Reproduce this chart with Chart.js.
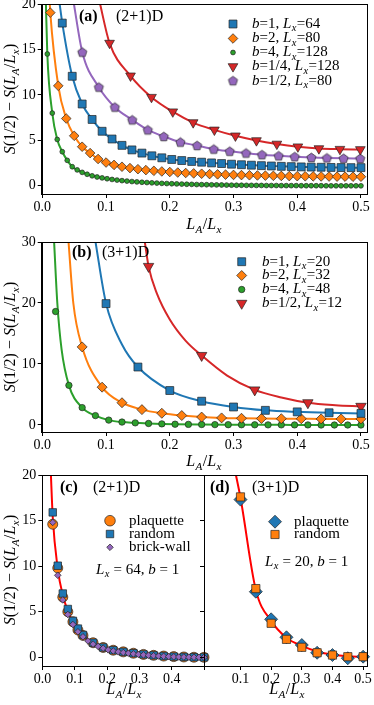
<!DOCTYPE html>
<html><head><meta charset="utf-8">
<script src="https://cdn.jsdelivr.net/npm/chart.js@4.4.1/dist/chart.umd.min.js"></script>
<style>
html,body{margin:0;padding:0;background:#fff;}
#wrap{position:relative;width:374px;height:705px;overflow:hidden;background:#fff;}
canvas{position:absolute;}
</style></head><body><div id="wrap">
<canvas id="ca"></canvas><canvas id="cb"></canvas><canvas id="cc"></canvas><canvas id="cd"></canvas>
</div>
<script>
// ---------------- DATA ----------------
// Panel (a) (2+1)D
const aBlueX = [0.0313,0.0469,0.0625,0.0781,0.0938,0.1094,0.125,0.1406,0.1563,0.1719,0.1875,0.2031,0.2188,0.2344,0.25,0.2656,0.2813,0.2969,0.3125,0.3281,0.3438,0.3594,0.375,0.3906,0.4063,0.4219,0.4375,0.4531,0.4688,0.4844,0.5];
const aBlueY = [17.9,12.05,9.0,7.3,6.0,5.15,4.45,3.95,3.6,3.3,3.08,2.9,2.78,2.68,2.6,2.52,2.45,2.38,2.32,2.27,2.22,2.18,2.14,2.11,2.08,2.06,2.04,2.02,2.01,2.0,2.0];
const aOrangeX = [0.0125,0.025,0.0375,0.05,0.0625,0.075,0.0875,0.1,0.1125,0.125,0.1375,0.15,0.1625,0.175,0.1875,0.2,0.2125,0.225,0.2375,0.25,0.2625,0.275,0.2875,0.3,0.3125,0.325,0.3375,0.35,0.3625,0.375,0.3875,0.4,0.4125,0.425,0.4375,0.45,0.4625,0.475,0.4875,0.5];
const aOrangeY = [19.05,11.0,7.4,5.5,4.3,3.6,2.95,2.56,2.3,2.1,1.95,1.83,1.73,1.65,1.58,1.52,1.46,1.41,1.37,1.33,1.29,1.26,1.23,1.2,1.18,1.16,1.14,1.12,1.1,1.09,1.07,1.06,1.05,1.04,1.03,1.02,1.01,1.01,1.0,1.0];
const aGreenX = [0.0078,0.0156,0.0234,0.0313,0.0391,0.0469,0.0547,0.0625,0.0703,0.0781,0.0859,0.0938,0.1016,0.1094,0.1172,0.125,0.1328,0.1406,0.1484,0.1563,0.1641,0.1719,0.1797,0.1875,0.1953,0.2031,0.2109,0.2188,0.2266,0.2344,0.2422,0.25,0.2578,0.2656,0.2734,0.2813,0.2891,0.2969,0.3047,0.3125,0.3203,0.3281,0.3359,0.3438,0.3516,0.3594,0.3672,0.375,0.3828,0.3906,0.3984,0.4063,0.4141,0.4219,0.4297,0.4375,0.4453,0.4531,0.4609,0.4688,0.4766,0.4844,0.4922,0.5];
const aGreenY = [14.5,8.0,5.1,3.75,2.8,2.1,1.75,1.48,1.27,1.1,0.97,0.87,0.78,0.7,0.63,0.57,0.52,0.47,0.43,0.39,0.36,0.33,0.3,0.27,0.25,0.23,0.21,0.19,0.17,0.16,0.14,0.13,0.12,0.11,0.1,0.09,0.08,0.07,0.06,0.06,0.05,0.05,0.04,0.04,0.03,0.03,0.03,0.02,0.02,0.02,0.02,0.01,0.01,0.01,0.01,0.01,0,0,0,0,0,0,0,0];
const aRedX = [0.1055,0.1384,0.1713,0.2047,0.2367,0.27,0.303,0.336,0.368,0.401,0.434,0.467,0.499];
const aRedY = [15.7,12.1,9.75,8.15,6.96,6.15,5.5,4.98,4.6,4.3,4.1,4.03,4.0];
const aPurpleX = [0.0627,0.0887,0.1138,0.141,0.1655,0.1906,0.2167,0.2428,0.269,0.294,0.3196,0.3447,0.3708,0.396,0.4221,0.4466,0.4727,0.4988];
const aPurpleY = [14.7,10.85,8.65,7.25,6.15,5.42,4.8,4.43,4.03,3.8,3.6,3.42,3.3,3.2,3.12,3.06,3.02,3.0];
// fit-curve points read above the first marker (curve reaching the top edge)
const aFitTopX = {blue:[0.026], orange:[0.0113], green:[0.0054], red:[0.0893], purple:[0.0486]};
const aFitTopY = {blue:[20.6], orange:[20.6], green:[20.6], red:[20.4], purple:[20.4]};
const aLabels = ['$b$=1, $L_x$=64','$b$=2, $L_x$=80','$b$=4, $L_x$=128','$b$=1/4, $L_x$=128','$b$=1/2, $L_x$=80'];

// Panel (b) (3+1)D
const bBlueX = [0.1,0.15,0.2,0.25,0.3,0.35,0.4,0.45,0.5];
const bBlueY = [19.9,9.5,5.65,3.9,2.95,2.4,2.15,2.0,1.9];
const bOrangeX = [0.0625,0.0938,0.125,0.1563,0.1875,0.2188,0.25,0.2813,0.3125,0.3438,0.375,0.4063,0.4375,0.4688,0.5];
const bOrangeY = [12.8,6.2,3.65,2.52,1.92,1.55,1.3,1.16,1.1,1.06,1.03,1.02,1.0,1.0,1.0];
const bGreenX = [0.0208,0.0417,0.0625,0.0833,0.1042,0.125,0.1458,0.1667,0.1875,0.2083,0.2292,0.25,0.2708,0.2917,0.3125,0.3333,0.3542,0.375,0.3958,0.4167,0.4375,0.4583,0.4792,0.5];
const bGreenY = [18.6,6.5,2.85,1.54,0.8,0.48,0.35,0.25,0.18,0.13,0.1,0.08,0.06,0.05,0.04,0.03,0.02,0.02,0.01,0.01,0,0,0,0];
const bRedX = [0.1667,0.25,0.3333,0.4167,0.5];
const bRedY = [26.0,11.4,5.75,3.65,3.06];
const bFitBlueX = [0.0825,0.1,0.125,0.15,0.2,0.25,0.3,0.35,0.4,0.45,0.5];
const bFitBlueY = [30.6,19.9,13.2,9.5,5.65,3.9,2.95,2.4,2.15,2.0,1.9];
const bFitOrangeX = [0.0407,0.0486,0.0625,0.0938,0.125,0.1563,0.1875,0.2188,0.25,0.2813,0.3125,0.3438,0.375,0.4063,0.4375,0.4688,0.5];
const bFitOrangeY = [30.6,20.0,12.8,6.2,3.65,2.52,1.92,1.55,1.3,1.16,1.1,1.06,1.03,1.02,1.0,1.0,1.0];
const bFitGreenX = [0.0182,0.0235,0.0302,0.0417,0.0625,0.0833,0.1042,0.125,0.1458,0.1667,0.1875,0.2083,0.25,0.2917,0.3333,0.375,0.4167,0.4583,0.5];
const bFitGreenY = [30.6,20.0,12.4,6.5,2.85,1.54,0.8,0.48,0.35,0.25,0.18,0.13,0.08,0.05,0.03,0.02,0.01,0,0];
const bFitRedX = [0.16,0.1667,0.18,0.2,0.225,0.25,0.29,0.3333,0.375,0.4167,0.46,0.5];
const bFitRedY = [30.6,26.0,21.5,17.3,13.8,11.4,8.1,5.75,4.5,3.65,3.25,3.06];
const bLabels = ['$b$=1, $L_x$=20','$b$=2, $L_x$=32','$b$=4, $L_x$=48','$b$=1/2, $L_x$=12'];

// Panel (c) (2+1)D, L_x=64, b=1
const cX = [0.0313,0.0469,0.0625,0.0781,0.0938,0.1094,0.125,0.1563,0.1875,0.2188,0.25,0.2813,0.3125,0.3438,0.375,0.4063,0.4375,0.4688,0.5];
const cPlaqY = [14.6,9.8,6.6,5.0,3.9,3.0,2.4,1.6,1.08,0.78,0.6,0.45,0.32,0.22,0.14,0.08,0.04,0.01,0];
const cRandY = [15.9,10.05,7.0,5.3,4.0,3.15,2.45,1.6,1.08,0.78,0.6,0.45,0.32,0.22,0.14,0.08,0.04,0.01,0];
const cBrickX = [0.0313,0.0469,0.0625,0.0781,0.0938,0.1094,0.125,0.1406,0.1563,0.1719,0.1875,0.2031,0.2188,0.2344,0.25,0.2656,0.2813,0.2969,0.3125,0.3281,0.3438,0.3594,0.375,0.3906,0.4063,0.4219,0.4375,0.4531,0.4688,0.4844,0.5];
const cBrickY = [14.8,9.0,6.3,4.7,3.6,2.8,2.25,1.8,1.45,1.2,1.0,0.82,0.7,0.6,0.52,0.45,0.38,0.32,0.27,0.22,0.18,0.14,0.11,0.08,0.06,0.04,0.03,0.02,0.01,0,0];
const cFitX = [0.025,0.0313,0.0469,0.0625,0.0781,0.0938,0.125,0.1563,0.1875,0.25,0.3125,0.375,0.4375,0.5];
const cFitY = [20.6,15.4,9.7,6.8,5.1,3.9,2.45,1.6,1.1,0.6,0.32,0.14,0.04,0.0];
const cLabels = ['plaquette','random','brick-wall'];

// Panel (d) (3+1)D, L_x=20, b=1
const dX = [0.1,0.15,0.2,0.25,0.3,0.35,0.4,0.45,0.5];
const dPlaqY = [17.3,7.2,4.17,2.2,1.35,0.5,0.25,-0.1,0.07];
const dRandY = [17.6,7.54,3.73,1.97,1.1,0.5,0.25,0.07,0.07];
const dFitX = [0.0815,0.1,0.15,0.2,0.25,0.3,0.35,0.4,0.45,0.5];
const dFitY = [20.6,17.5,7.4,4.0,2.15,1.25,0.65,0.3,0.12,0.05];
const dLabels = ['plaquette','random'];

// ---------------- STYLE / HELPERS ----------------
const C = {blue:'#1f77b4', orange:'#ff7f0e', green:'#2ca02c', red:'#d62728', purple:'#9467bd', pure:'#ff0000'};
const EDGE = '#222';
const FAM = '"Liberation Serif","DejaVu Serif","Times New Roman",serif';

function xy(xs, ys){ return xs.map((x,i)=>({x:x, y:ys[i]})); }

function pentagonImg(r, fill){
  const s = Math.ceil(2*r+3); const cv = document.createElement('canvas'); cv.width=s; cv.height=s;
  const g = cv.getContext('2d'); const c = s/2;
  g.beginPath();
  for(let i=0;i<5;i++){ const a=-Math.PI/2+i*2*Math.PI/5; const px=c+r*Math.cos(a), py=c+r*Math.sin(a)+0.4; i?g.lineTo(px,py):g.moveTo(px,py);} 
  g.closePath(); g.fillStyle=fill; g.fill(); g.lineWidth=0.7; g.strokeStyle=EDGE; g.stroke();
  return cv;
}
const PENT = pentagonImg(4.8, C.purple);

function marker(data, color, style, r, rot){
  return {type:'scatter', data:data, showLine:false, pointStyle:style, pointRadius:r, pointRotation:rot||0,
    backgroundColor:color, borderColor:EDGE, borderWidth:0.7, order:0, clip:false};
}
function curve(data, color, w){
  return {type:'line', data:data, showLine:true, pointRadius:0, borderColor:color, borderWidth:w||2,
    cubicInterpolationMode:'monotone', fill:false, order:1};
}

function parseRich(str){
  const parts = str.split('$'); const segs=[];
  parts.forEach((p,i)=>{
    if(!p) return;
    if(i%2===0){ segs.push({t:p, it:false, sub:false}); return; }
    for(let j=0;j<p.length;j++){
      const ch=p[j];
      if(ch==='_'){ const n=p[j+1]; segs.push({t:n, it:/[A-Za-z]/.test(n), sub:true}); j++; }
      else segs.push({t:ch, it:/[A-Za-z]/.test(ch), sub:false});
    }
  });
  return segs;
}
function drawRich(ctx, str, x, y, size, align, bold){
  const segs = parseRich(str);
  const fnt = s => (s.it?'italic ':'') + (bold&&!s.it?'bold ':'') + (s.sub?size*0.7:size) + 'px ' + FAM;
  let w=0; segs.forEach(s=>{ ctx.font=fnt(s); s.w=ctx.measureText(s.t).width + (s.sub?0.8:0); w+=s.w; });
  let cx = align==='center' ? x-w/2 : (align==='right' ? x-w : x);
  ctx.textAlign='left'; ctx.textBaseline='middle'; ctx.fillStyle='#000';
  segs.forEach(s=>{ ctx.font=fnt(s); ctx.fillText(s.t, cx + (s.sub?0.5:0), y + (s.sub? size*0.3 : 0)); cx+=s.w; });
}
function drawMark(ctx, style, color, r, x, y, rot){
  ctx.save(); ctx.fillStyle=color; ctx.strokeStyle=EDGE; ctx.lineWidth=0.7;
  if(style==='img'){ ctx.drawImage(PENT, x-PENT.width/2, y-PENT.height/2); ctx.restore(); return; }
  ctx.beginPath();
  if(style==='circle'){ ctx.arc(x,y,r,0,Math.PI*2); }
  else if(style==='rect'){ const s=r*Math.SQRT1_2; ctx.rect(x-s,y-s,2*s,2*s); }
  else if(style==='rectRot'){ ctx.moveTo(x-r,y); ctx.lineTo(x,y-r); ctx.lineTo(x+r,y); ctx.lineTo(x,y+r); ctx.closePath(); }
  else if(style==='triangle'){ let a=(rot||0)*Math.PI/180; for(let i=0;i<3;i++){ const px=x+Math.sin(a)*r, py=y-Math.cos(a)*r; i?ctx.lineTo(px,py):ctx.moveTo(px,py); a+=2*Math.PI/3; } ctx.closePath(); }
  ctx.fill(); ctx.stroke(); ctx.restore();
}

function panel(id, box, area, sx, sy, datasets, texts, legend){
  const cv = document.getElementById(id);
  cv.width = box.w; cv.height = box.h; cv.style.left = box.x+'px'; cv.style.top = box.y+'px';
  const ox = box.x, oy = box.y;
  const deco = {
    id:'deco'+id,
    afterDraw(chart){
      const ctx = chart.ctx, a = chart.chartArea;
      ctx.save(); ctx.strokeStyle='#000'; ctx.lineWidth=1;
      ctx.strokeRect(Math.round(a.left)+0.5, Math.round(a.top)+0.5, Math.round(a.right-a.left), Math.round(a.bottom-a.top));
      ctx.restore();
      texts.forEach(t=>{
        ctx.save();
        if(t.rot){ ctx.translate(t.x-ox, t.y-oy); ctx.rotate(-Math.PI/2); drawRich(ctx, t.s, 0, 0, t.size, 'center', t.bold); }
        else drawRich(ctx, t.s, t.x-ox, t.y-oy, t.size, t.align||'left', t.bold);
        ctx.restore();
      });
      legend.forEach(l=>{
        drawMark(ctx, l.style, l.color, l.r, l.mx-ox, l.y-oy, l.rot);
        drawRich(ctx, l.s, l.tx-ox, l.y-oy, l.size, 'left');
      });
    }
  };
  const tickFont = {family:FAM, size:14};
  return new Chart(cv, {
    type:'scatter', data:{datasets:datasets},
    options:{
      responsive:false, animation:false, events:[],
      layout:{padding:{left:0, top:area.t-oy, right:ox+box.w-area.r, bottom:0}},
      plugins:{legend:{display:false}, tooltip:{enabled:false}},
      scales:{
        x:{type:'linear', min:sx.min, max:sx.max,
          afterFit:s=>{ s.height = oy+box.h-area.b; },
          afterBuildTicks:s=>{ s.ticks = sx.ticks.map(v=>({value:v})); },
          ticks:{callback:v=> (sx.hide && sx.hide.includes(v)) ? '' : v.toFixed(1),
            font:tickFont, color:'#000', padding:1, maxRotation:0, autoSkip:false},
          grid:{drawOnChartArea:false, drawTicks:true, tickLength:4, color:'#000'},
          border:{display:true, color:'#000', width:1}},
        y:{type:'linear', min:sy.min, max:sy.max,
          afterFit:s=>{ s.width = area.l-ox; },
          afterBuildTicks:s=>{ s.ticks = sy.ticks.map(v=>({value:v})); },
          ticks:{display:sy.show!==false, callback:v=>String(v), font:tickFont, color:'#000', padding:2, autoSkip:false},
          grid:{drawOnChartArea:false, drawTicks:true, tickLength:4, color:'#000'},
          border:{display:true, color:'#000', width:1}}
      }
    },
    plugins:[deco]
  });
}

const yTitle = '$S$(1/2) − $S$($L_A$/$L_x$)';
const xTitle = '$L_A$/$L_x$';
const xTicks = [0,0.1,0.2,0.3,0.4,0.5];

// ---------- (a) ----------
panel('ca', {x:0,y:-10,w:374,h:245}, {l:41.7,t:4,r:366.7,b:194},
  {min:-0.001, max:0.509, ticks:xTicks}, {min:-0.9, max:20, ticks:[0,5,10,15,20]},
  [
    marker(xy(aBlueX,aBlueY), C.blue, 'rect', 5.6),
    marker(xy(aOrangeX,aOrangeY), C.orange, 'rectRot', 4.8),
    marker(xy(aGreenX,aGreenY), C.green, 'circle', 2.4),
    marker(xy(aRedX,aRedY), C.red, 'triangle', 5.6, 180),
    marker(xy(aPurpleX,aPurpleY), C.purple, PENT, 5),
    curve(xy(aFitTopX.blue.concat(aBlueX), aFitTopY.blue.concat(aBlueY)), C.blue),
    curve(xy(aFitTopX.orange.concat(aOrangeX), aFitTopY.orange.concat(aOrangeY)), C.orange),
    curve(xy(aFitTopX.green.concat(aGreenX), aFitTopY.green.concat(aGreenY)), C.green),
    curve(xy(aFitTopX.red.concat(aRedX), aFitTopY.red.concat(aRedY)), C.red),
    curve(xy(aFitTopX.purple.concat(aPurpleX), aFitTopY.purple.concat(aPurpleY)), C.purple)
  ],
  [
    {s:'(a)', x:79, y:17, size:16, bold:true},
    {s:'(2+1)D', x:116, y:17, size:16},
    {s:yTitle, x:11, y:99, size:16, rot:true},
    {s:xTitle, x:204, y:225, size:16, align:'center'}
  ],
  [
    {style:'rect', color:C.blue, r:5.6, mx:233, tx:252, y:24, s:aLabels[0], size:15},
    {style:'rectRot', color:C.orange, r:4.8, mx:233, tx:252, y:38.5, s:aLabels[1], size:15},
    {style:'circle', color:C.green, r:2.4, mx:233, tx:252, y:52.5, s:aLabels[2], size:15},
    {style:'triangle', color:C.red, r:5.6, rot:180, mx:233, tx:252, y:66.5, s:aLabels[3], size:15},
    {style:'img', color:C.purple, r:5, mx:233, tx:252, y:80.7, s:aLabels[4], size:15}
  ]);

// ---------- (b) ----------
panel('cb', {x:0,y:230,w:374,h:240}, {l:41.7,t:242,r:366.7,b:432},
  {min:-0.001, max:0.509, ticks:xTicks}, {min:-1.15, max:30, ticks:[0,10,20,30]},
  [
    marker(xy(bBlueX,bBlueY), C.blue, 'rect', 5.6),
    marker(xy(bOrangeX,bOrangeY), C.orange, 'rectRot', 5),
    marker(xy(bGreenX,bGreenY), C.green, 'circle', 3.2),
    marker(xy(bRedX,bRedY), C.red, 'triangle', 6, 180),
    curve(xy(bFitBlueX,bFitBlueY), C.blue),
    curve(xy(bFitOrangeX,bFitOrangeY), C.orange),
    curve(xy(bFitGreenX,bFitGreenY), C.green),
    curve(xy(bFitRedX,bFitRedY), C.red)
  ],
  [
    {s:'(b)', x:72, y:252.7, size:16, bold:true},
    {s:'(3+1)D', x:102, y:252.7, size:16},
    {s:yTitle, x:11, y:337, size:16, rot:true},
    {s:xTitle, x:204, y:462, size:16, align:'center'}
  ],
  [
    {style:'rect', color:C.blue, r:5.6, mx:241.7, tx:262, y:261.7, s:bLabels[0], size:15},
    {style:'rectRot', color:C.orange, r:5, mx:241.7, tx:262, y:275.5, s:bLabels[1], size:15},
    {style:'circle', color:C.green, r:3.2, mx:241.7, tx:262, y:289.5, s:bLabels[2], size:15},
    {style:'triangle', color:C.red, r:6, rot:180, mx:241.7, tx:262, y:303.3, s:bLabels[3], size:15}
  ]);

// ---------- (c) ----------
panel('cc', {x:0,y:462,w:214,h:243}, {l:42.3,t:475,r:204,b:666},
  {min:-0.001, max:0.5, ticks:[0,0.1,0.2,0.3,0.4,0.5], hide:[0.5]}, {min:-0.95, max:20, ticks:[0,5,10,15,20]},
  [
    marker(xy(cBrickX,cBrickY), C.purple, 'rectRot', 3.3),
    marker(xy(cX,cRandY), C.blue, 'rect', 5.3),
    marker(xy(cX,cPlaqY), C.orange, 'circle', 5),
    curve(xy(cFitX,cFitY), C.pure, 2)
  ],
  [
    {s:'(c)', x:60, y:488, size:16, bold:true},
    {s:'(2+1)D', x:93, y:488, size:16},
    {s:'$L_x$ = 64, $b$ = 1', x:96, y:570, size:15},
    {s:yTitle, x:11, y:570, size:16, rot:true},
    {s:xTitle, x:124, y:690, size:16, align:'center'}
  ],
  [
    {style:'circle', color:C.orange, r:5.3, mx:110, tx:129, y:520.7, s:cLabels[0], size:15},
    {style:'rect', color:C.blue, r:5.3, mx:110, tx:129, y:534, s:cLabels[1], size:15},
    {style:'rectRot', color:C.purple, r:3.3, mx:110, tx:129, y:547.3, s:cLabels[2], size:15}
  ]);

// ---------- (d) ----------
panel('cd', {x:196,y:462,w:178,h:243}, {l:204,t:475,r:367.7,b:666},
  {min:-0.019, max:0.512, ticks:[0.1,0.2,0.3,0.4,0.5]}, {min:-0.95, max:20, ticks:[0,5,10,15,20], show:false},
  [
    marker(xy(dX,dRandY), C.orange, 'rect', 5.8),
    marker(xy(dX,dPlaqY), C.blue, 'rectRot', 6.5),
    curve(xy(dFitX,dFitY), C.pure, 2)
  ],
  [
    {s:'(d)', x:210, y:488, size:16, bold:true},
    {s:'(3+1)D', x:252, y:488, size:16},
    {s:'$L_x$ = 20, $b$ = 1', x:265, y:562, size:15},
    {s:xTitle, x:287, y:690, size:16, align:'center'}
  ],
  [
    {style:'rectRot', color:C.blue, r:6.5, mx:275, tx:294, y:521.7, s:dLabels[0], size:15},
    {style:'rect', color:C.orange, r:5.8, mx:275, tx:294, y:534.5, s:dLabels[1], size:15}
  ]);
</script>
</body></html>
